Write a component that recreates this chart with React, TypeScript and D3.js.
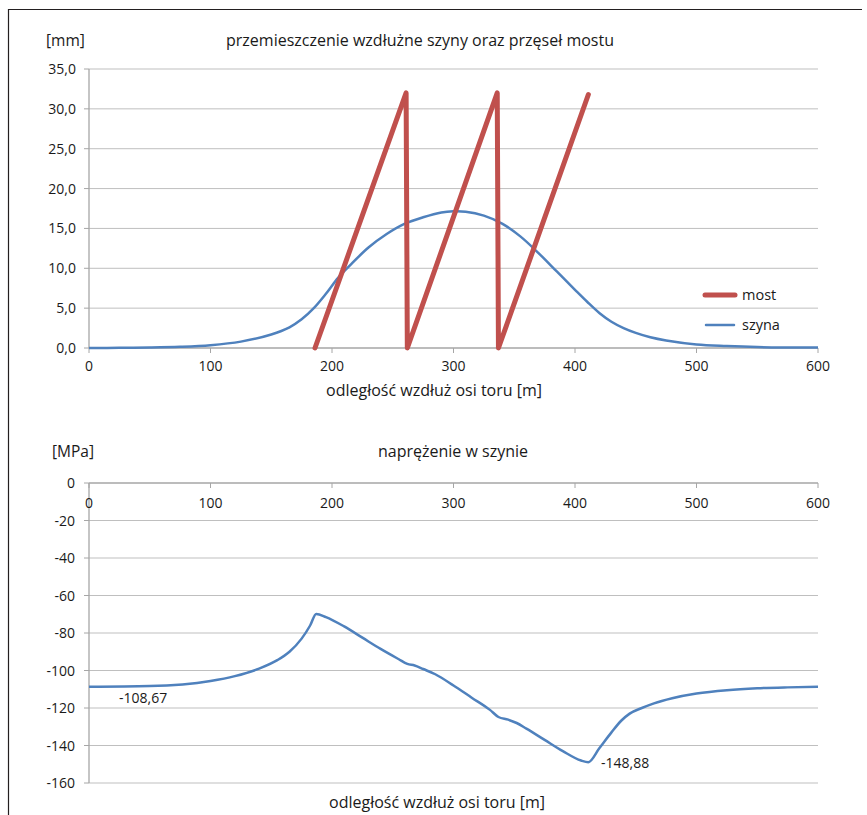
import React from "react";
import * as d3 from "d3";

// przemieszczenie szyny [mm] vs distance [m]
const szynaX = [0, 25, 50, 75, 100, 125, 150, 165, 175, 185, 195, 205, 215, 230, 245, 260, 275, 290, 300, 310, 325, 340, 355, 370, 385, 400, 410, 420, 430, 440, 450, 462, 475, 500, 525, 550, 575, 600];
const szynaY = [0.0, 0.02, 0.06, 0.15, 0.35, 0.8, 1.7, 2.6, 3.6, 5.0, 6.8, 8.8, 10.4, 12.6, 14.3, 15.6, 16.4, 17.0, 17.15, 17.1, 16.6, 15.6, 14.0, 11.9, 9.6, 7.3, 5.8, 4.4, 3.3, 2.5, 1.9, 1.35, 0.95, 0.45, 0.25, 0.12, 0.07, 0.05];

// przęsła mostu
const mostX = [186, 261, 262, 336, 337, 411];
const mostY = [0, 32.0, 0, 32.0, 0, 31.8];

// naprężenie w szynie [MPa]
const stressX = [0, 50, 100, 120, 140, 155, 165, 175, 182, 187, 195, 210, 225, 240, 255, 262, 268, 275, 285, 300, 315, 330, 337, 345, 352, 360, 375, 390, 405, 411, 420, 430, 438, 445, 455, 465, 480, 500, 525, 550, 575, 600];
const stressY = [-108.67, -108.3, -105.6, -103, -99, -94.5, -90, -83, -76, -69.8, -71.5, -76.5, -82.5, -88.5, -94, -96.5, -97.3, -99.2, -102, -108, -114.5, -121, -124.8, -126.2, -128, -131, -137, -143, -148, -148.88, -141.5, -133, -126.8, -123, -120, -117.5, -114.8, -112.3, -110.5, -109.5, -109, -108.7];

const xTicks = [0, 100, 200, 300, 400, 500, 600];
const topTicks = [0, 5, 10, 15, 20, 25, 30, 35];
const bottomTicks = [0, -20, -40, -60, -80, -100, -120, -140, -160];

const FONT = "'Open Sans', sans-serif";
const RED = "#C0504D";
const BLUE = "#4F81BD";
const GRID = "#BFBFBF";
const AXIS = "#A6A6A6";
const TXT = "#1a1a1a";
const NUM = 14;
const LBL = 16;

const App: React.FC = () => {
  const left = 89;
  const right = 818;

  const x = d3.scaleLinear().domain([0, 600]).range([left, right]);
  const yTop = d3.scaleLinear().domain([0, 35]).range([348, 69]);
  const yBot = d3.scaleLinear().domain([-160, 0]).range([783, 483]);

  const fmt1 = (v: number) => d3.format(".1f")(v).replace(".", ",");

  const lineTop = d3.line<[number, number]>().x((d) => x(d[0])).y((d) => yTop(d[1])).curve(d3.curveCatmullRom.alpha(0.5));
  const lineMost = d3.line<[number, number]>().x((d) => x(d[0])).y((d) => yTop(d[1]));
  const lineBot = d3.line<[number, number]>().x((d) => x(d[0])).y((d) => yBot(d[1])).curve(d3.curveMonotoneX);

  const szyna = szynaX.map((v, i) => [v, szynaY[i]] as [number, number]);
  const most = mostX.map((v, i) => [v, mostY[i]] as [number, number]);
  const stress = stressX.map((v, i) => [v, stressY[i]] as [number, number]);

  return (
    <svg width={867} height={815} style={{ position: "absolute", left: 0, top: 0 }} fontFamily={FONT} fontSize={NUM}>
      <rect x={0} y={0} width={867} height={815} fill="#fff" />
      {/* frame */}
      <line x1={8} y1={9.5} x2={862} y2={9.5} stroke="#231f20" strokeWidth={1.2} />
      <line x1={8.5} y1={9} x2={8.5} y2={815} stroke="#231f20" strokeWidth={1.2} />

      {/* top chart */}
      <text x={46} y={46} fill={TXT} fontSize={15.5}>[mm]</text>
      <text x={420} y={46} fill={TXT} fontSize={LBL} textAnchor="middle">przemieszczenie wzdłużne szyny oraz przęseł mostu</text>
      {topTicks.map((t) => (
        <g key={t}>
          {t !== 0 && <line x1={left} x2={right} y1={yTop(t)} y2={yTop(t)} stroke={GRID} />}
          <line x1={84} x2={left} y1={yTop(t)} y2={yTop(t)} stroke={AXIS} />
          <text x={76} y={yTop(t) + 5} textAnchor="end" fill={TXT}>{fmt1(t)}</text>
        </g>
      ))}
      <line x1={left} x2={left} y1={69} y2={348} stroke={AXIS} strokeWidth={1.3} />
      <line x1={left} x2={right} y1={348} y2={348} stroke={AXIS} strokeWidth={1.3} />
      {xTicks.map((t) => (
        <g key={t}>
          <line x1={x(t)} x2={x(t)} y1={348} y2={353} stroke={AXIS} />
          <text x={x(t)} y={371} textAnchor="middle" fill={TXT}>{t}</text>
        </g>
      ))}
      <text x={434} y={396} textAnchor="middle" fill={TXT} fontSize={LBL}>odległość wzdłuż osi toru [m]</text>
      <path d={lineTop(szyna) ?? ""} fill="none" stroke={BLUE} strokeWidth={2.5} />
      <path d={lineMost(most) ?? ""} fill="none" stroke={RED} strokeWidth={5} strokeLinecap="round" strokeLinejoin="round" />
      {/* legend */}
      <line x1={705} x2={735} y1={295} y2={295} stroke={RED} strokeWidth={5} strokeLinecap="round" />
      <text x={742} y={300} fill={TXT} fontSize={14.5}>most</text>
      <line x1={706} x2={734} y1={325} y2={325} stroke={BLUE} strokeWidth={2.5} strokeLinecap="round" />
      <text x={742} y={330} fill={TXT} fontSize={14.5}>szyna</text>

      {/* bottom chart */}
      <text x={52} y={457} fill={TXT} fontSize={15.5}>[MPa]</text>
      <text x={453} y={457} fill={TXT} fontSize={LBL} textAnchor="middle">naprężenie w szynie</text>
      {bottomTicks.map((t) => (
        <g key={t}>
          {t !== 0 && <line x1={left} x2={right} y1={yBot(t)} y2={yBot(t)} stroke={GRID} />}
          <line x1={84} x2={left} y1={yBot(t)} y2={yBot(t)} stroke={AXIS} />
          <text x={75} y={yBot(t) + 5} textAnchor="end" fill={TXT}>{t}</text>
        </g>
      ))}
      <line x1={left} x2={left} y1={483} y2={783} stroke={AXIS} strokeWidth={1.3} />
      <line x1={left} x2={right} y1={483} y2={483} stroke={AXIS} strokeWidth={1.3} />
      {xTicks.map((t) => (
        <g key={t}>
          <line x1={x(t)} x2={x(t)} y1={483} y2={488} stroke={AXIS} />
          <text x={x(t)} y={508} textAnchor="middle" fill={TXT}>{t}</text>
        </g>
      ))}
      <path d={lineBot(stress) ?? ""} fill="none" stroke={BLUE} strokeWidth={2.5} />
      <text x={119} y={703} fill={TXT}>-108,67</text>
      <text x={601} y={768} fill={TXT}>-148,88</text>
      <text x={437} y={808} textAnchor="middle" fill={TXT} fontSize={LBL}>odległość wzdłuż osi toru [m]</text>
    </svg>
  );
};

export default App;
